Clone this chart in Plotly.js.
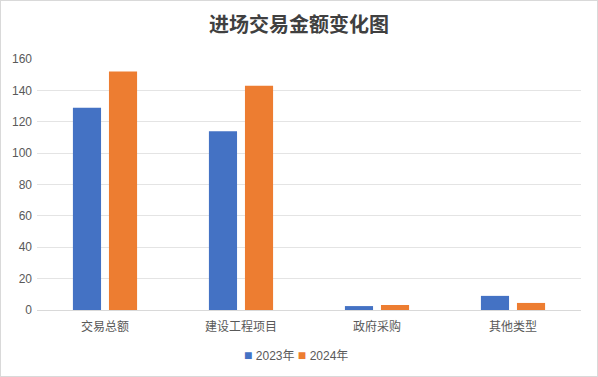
<!DOCTYPE html>
<html><head><meta charset="utf-8">
<script src="https://cdn.plot.ly/plotly-3.0.1.min.js"></script>
<style>
html,body{margin:0;padding:0;background:#fff;}
#chart{width:598px;height:377px;box-sizing:border-box;border:1px solid #d9d9d9;}
</style></head>
<body><div id="chart"></div>
<script>
const categories = ["交易总额", "建设工程项目", "政府采购", "其他类型"];
const series2023 = [129, 114, 2.5, 9];
const series2024 = [152, 143, 3.2, 4.5];
const seriesNames = ["2023年", "2024年"];
const seriesColors = ["#4472c4", "#ed7d31"];
const yTicks = [0, 20, 40, 60, 80, 100, 120, 140, 160];

const FONT = "'Liberation Sans', 'Noto Sans CJK SC', sans-serif";
const data = [
  {type: "bar", x: categories, y: series2023, name: seriesNames[0], marker: {color: seriesColors[0]}},
  {type: "bar", x: categories, y: series2024, name: seriesNames[1], marker: {color: seriesColors[1]}}
];
const legendText = seriesNames.map((n, i) =>
  '<span style="color:' + seriesColors[i] + ';font-size:14px">■</span> ' + n).join(' ');
const layout = {
  width: 596, height: 375,
  margin: {l: 36, r: 16, t: 58, b: 66},
  paper_bgcolor: "#fff", plot_bgcolor: "#fff",
  font: {family: FONT, size: 12, color: "#595959"},
  title: {text: "<b>进场交易金额变化图</b>", x: 0.5, xanchor: "center", y: 0.935, yanchor: "middle",
          font: {family: "'Noto Sans CJK SC', sans-serif", size: 20, color: "#404040"}},
  barmode: "group", bargap: 0.47, bargroupgap: 0.22,
  xaxis: {showgrid: false, showline: true, linecolor: "#d9d9d9", linewidth: 1, ticks: "", ticklabelstandoff: 6,
          tickfont: {family: "'Noto Sans CJK SC', sans-serif", size: 12, color: "#595959"}},
  yaxis: {range: [0, 160], tickvals: yTicks, showgrid: true, gridcolor: "#e4e4e4", gridwidth: 1,
          zeroline: true, zerolinecolor: "#d9d9d9", showline: false, ticks: "", ticklabelstandoff: 4,
          tickfont: {size: 12, color: "#595959"}},
  showlegend: false,
  annotations: [{xref: "paper", yref: "paper", x: (296 - 37) / 544, y: -(355 - 310) / 251,
                 xanchor: "center", yanchor: "middle", showarrow: false, text: legendText,
                 font: {family: FONT, size: 12, color: "#595959"}}]
};
Plotly.newPlot("chart", data, layout, {displayModeBar: false, staticPlot: true});
</script></body></html>
